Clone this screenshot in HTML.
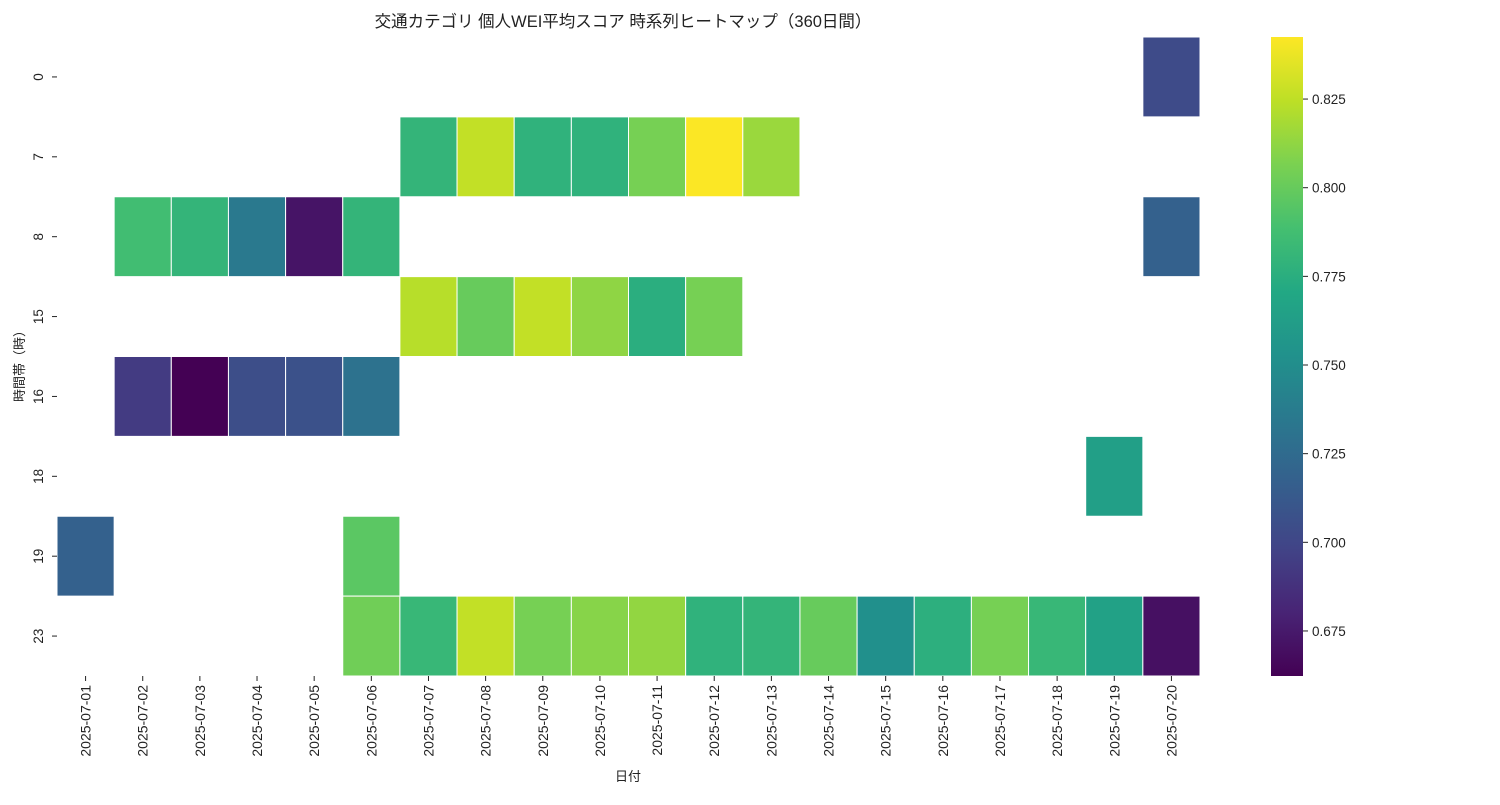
<!DOCTYPE html>
<html><head><meta charset="utf-8"><style>
body{margin:0;background:#fff;}
svg text{font-family:"Liberation Sans","Noto Sans CJK JP",sans-serif;fill:#222;}
</style></head><body>
<svg id="chart" width="1500" height="800" xmlns="http://www.w3.org/2000/svg">
<defs><linearGradient id="vg" x1="0" y1="1" x2="0" y2="0"></linearGradient></defs>
<text x="623" y="27" font-size="16.5" text-anchor="middle">交通カテゴリ 個人WEI平均スコア 時系列ヒートマップ（360日間）</text>
<g id="cells"></g>
<g id="xt"></g>
<g id="yt"></g>
<text x="628" y="781" font-size="13" text-anchor="middle">日付</text>
<text transform="translate(24,363) rotate(-90)" font-size="13" text-anchor="middle">時間帯（時）</text>
<rect x="1271" y="37" width="32" height="639" fill="url(#vg)"/>
<g id="cb"></g>
</svg>
<script>
const dates=["2025-07-01","2025-07-02","2025-07-03","2025-07-04","2025-07-05","2025-07-06","2025-07-07","2025-07-08","2025-07-09","2025-07-10","2025-07-11","2025-07-12","2025-07-13","2025-07-14","2025-07-15","2025-07-16","2025-07-17","2025-07-18","2025-07-19","2025-07-20"];
const hours=["0","7","8","15","16","18","19","23"];
const N=null;
const row0=[N,N,N,N,N,N,N,N,N,N,N,N,N,N,N,N,N,N,N,0.703];
const row7=[N,N,N,N,N,N,0.780,0.826,0.778,0.778,0.805,0.842,0.815,N,N,N,N,N,N,N];
const row8=[N,0.787,0.780,0.735,0.672,0.780,N,N,N,N,N,N,N,N,N,N,N,N,N,0.718];
const row15=[N,N,N,N,N,N,0.823,0.800,0.826,0.812,0.775,0.805,N,N,N,N,N,N,N,N];
const row16=[N,0.693,0.662,0.705,0.707,0.730,N,N,N,N,N,N,N,N,N,N,N,N,N,N];
const row18=[N,N,N,N,N,N,N,N,N,N,N,N,N,N,N,N,N,N,0.763,N];
const row19=[0.718,N,N,N,N,0.796,N,N,N,N,N,N,N,N,N,N,N,N,N,N];
const row23=[N,N,N,N,N,0.803,0.782,0.826,0.805,0.810,0.813,0.778,0.780,0.800,0.752,0.776,0.805,0.782,0.765,0.670];
const cbTicks=[0.675,0.700,0.725,0.750,0.775,0.800,0.825];
const rows=[row0,row7,row8,row15,row16,row18,row19,row23];
const vmin=0.6623,vmax=0.8425;
const X0=57,X1=1200,Y0=37,Y1=676;
const cw=(X1-X0)/dates.length,ch=(Y1-Y0)/hours.length;
const xs=i=>X0+i*cw, ys=j=>Y0+j*ch;
const cy=v=>Y1-(v-vmin)/(vmax-vmin)*(Y1-Y0);
const vir=["#440154","#482475","#414487","#355f8d","#2a788e","#21918c","#22a884","#44bf70","#7ad151","#bddf26","#fde725"];
function hx(h){return [1,3,5].map(k=>parseInt(h.substr(k,2),16));}
function col(v){let t=Math.max(0,Math.min(1,(v-vmin)/(vmax-vmin)))*10;let i=Math.min(9,Math.floor(t)),f=t-i;let a=hx(vir[i]),b=hx(vir[i+1]);return "rgb("+a.map((c,k)=>Math.round(c+(b[k]-c)*f)).join(",")+")";}
const NS="http://www.w3.org/2000/svg";
function mk(t,at,p){const e=document.createElementNS(NS,t);for(const k in at)e.setAttribute(k,at[k]);p.appendChild(e);return e;}
const g=document.getElementById("vg");
vir.forEach((c,i)=>mk("stop",{offset:(i*10)+"%","stop-color":c},g));
const cells=document.getElementById("cells");
rows.forEach((r,j)=>r.forEach((v,i)=>{if(v===null)return;
const e=mk("rect",{x:xs(i),y:ys(j),width:cw,height:ch,fill:col(v),stroke:"#fff","stroke-width":1},cells);

}));
const xt=document.getElementById("xt");
dates.forEach((d,i)=>{const x=xs(i)+cw/2;
const l=mk("line",{x1:x,x2:x,y1:Y1,y2:Y1+5,stroke:"#222"},xt);


const t=mk("text",{transform:`translate(${x+5},${Y1+9}) rotate(-90)`,"font-size":14,"text-anchor":"end"},xt);t.textContent=d;

});
const yt=document.getElementById("yt");
hours.forEach((h,j)=>{const y=ys(j)+ch/2;
const l=mk("line",{x1:X0-5,x2:X0,y1:y,y2:y,stroke:"#222"},yt);


const t=mk("text",{transform:`translate(${X0-14},${y}) rotate(-90)`,"font-size":13.5,"text-anchor":"middle"},yt);t.textContent=h;

});
const cb=document.getElementById("cb");
cbTicks.forEach(v=>{const y=cy(v);
const l=mk("line",{x1:1303,x2:1308,y1:y,y2:y,stroke:"#222"},cb);


const t=mk("text",{x:1312,y:y+5,"font-size":13.5},cb);t.textContent=v.toFixed(3);

});
</script>
</body></html>
